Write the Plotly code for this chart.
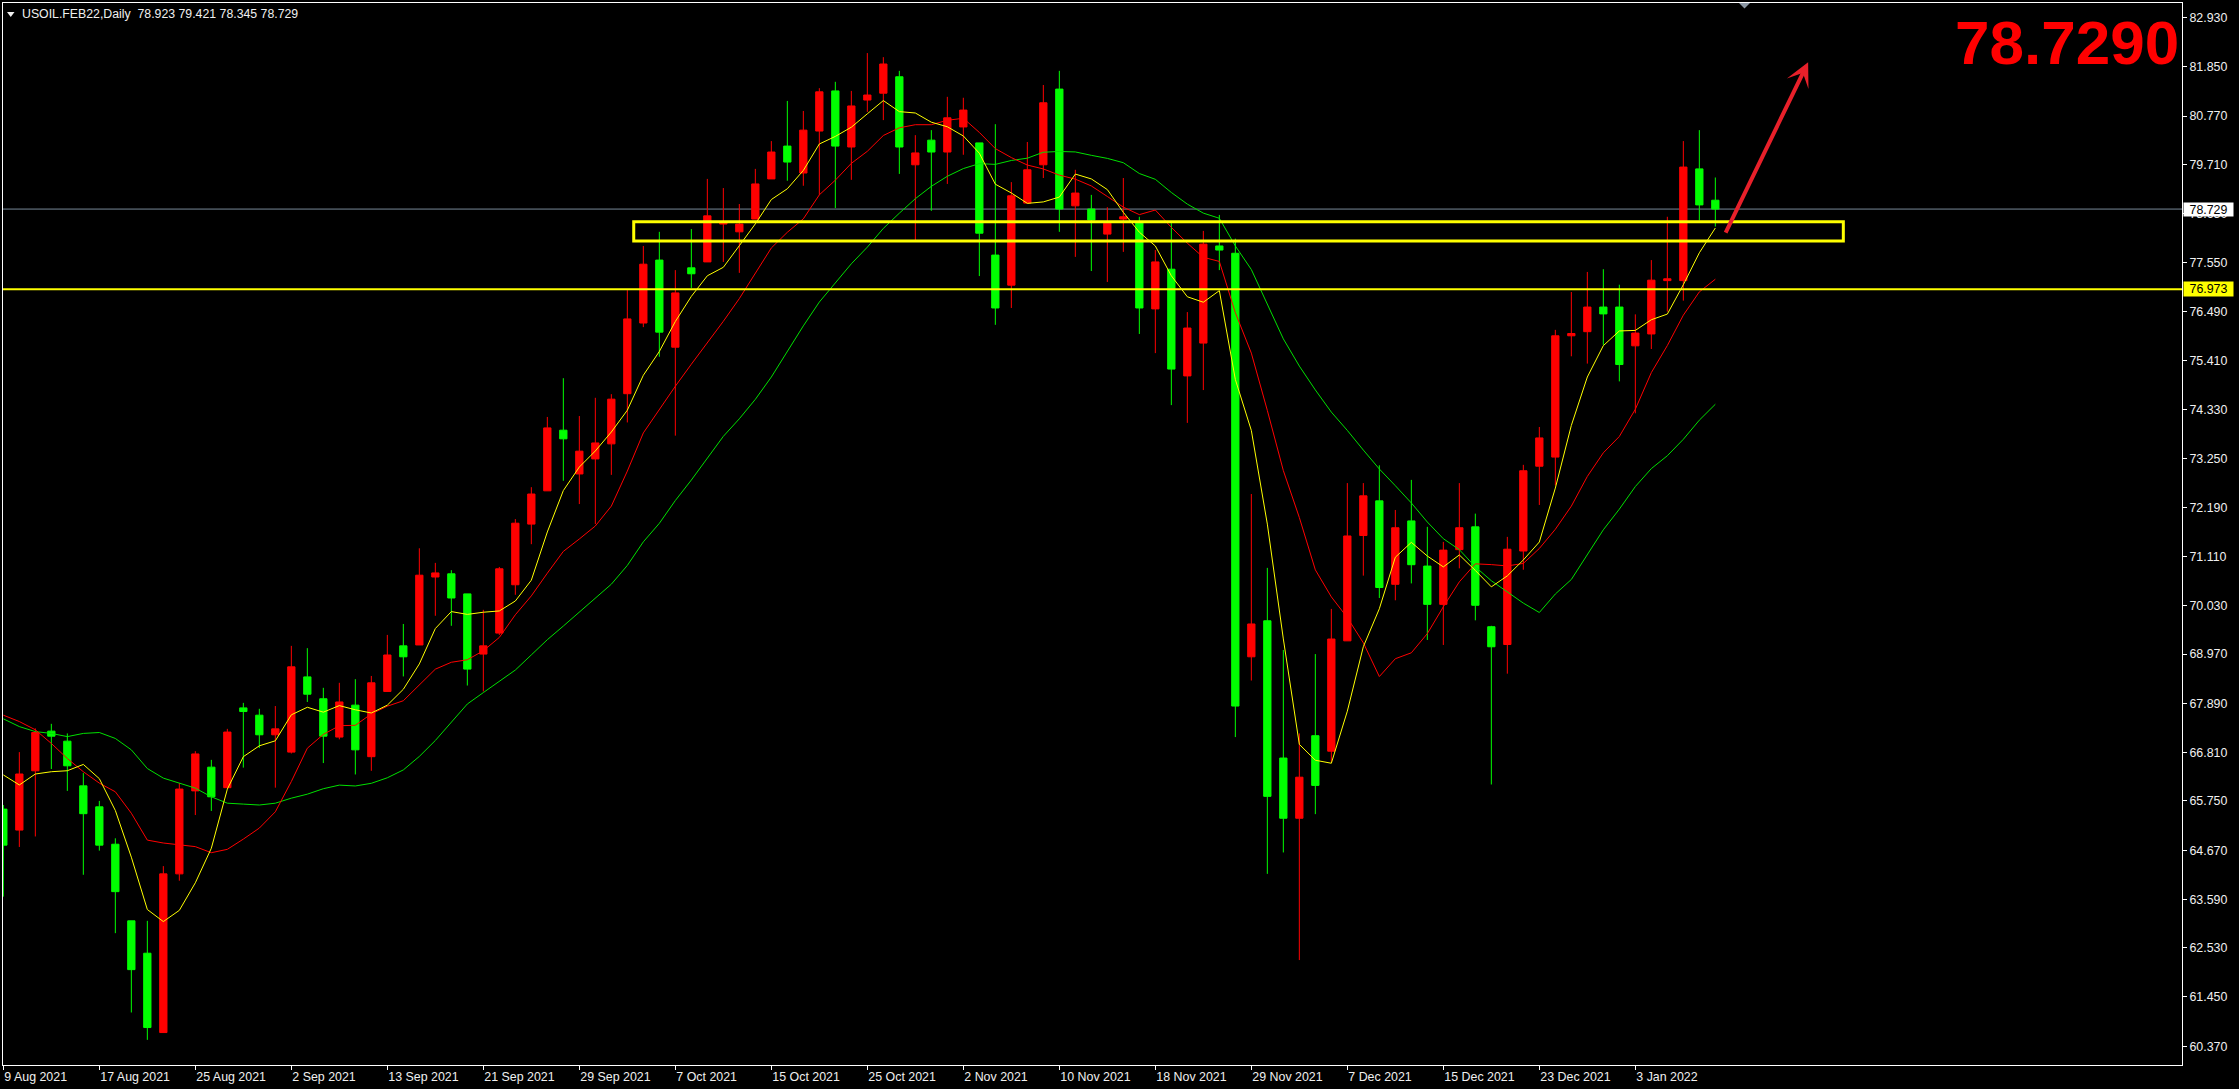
import plotly.graph_objects as go

# ---------------- data ----------------
opens = [65.57, 65.11, 66.41, 67.28, 67.06, 66.08, 65.62, 64.80, 63.12, 62.41,
         60.67, 64.15, 65.97, 66.49, 66.04, 67.79, 67.63, 67.20, 66.82, 68.47,
         67.99, 67.15, 67.85, 66.72, 68.15, 69.15, 69.17, 70.66, 70.73, 70.29,
         68.97, 69.43, 70.49, 71.82, 72.55, 73.88, 72.92, 73.25, 73.58, 74.68,
         76.23, 77.61, 75.70, 77.44, 77.57, 78.40, 78.23, 78.51, 79.39, 80.11,
         79.52, 80.44, 81.32, 80.09, 81.12, 81.27, 81.63, 79.70, 80.24, 79.98,
         80.53, 80.18, 77.72, 77.06, 78.86, 79.70, 81.36, 78.80, 78.73, 78.18,
         78.51, 78.45, 76.54, 77.41, 75.07, 75.79, 77.92, 77.76, 68.91, 69.70,
         66.69, 65.37, 67.18, 66.84, 69.26, 71.57, 72.33, 70.50, 71.89, 70.90,
         70.06, 71.26, 71.76, 69.57, 69.18, 71.23, 73.09, 73.29, 75.95, 76.04,
         76.58, 76.58, 75.73, 75.99, 77.16, 77.16, 79.61, 78.923]
highs = [65.66, 66.82, 67.34, 67.44, 67.23, 66.36, 65.75, 64.93, 63.12, 63.12,
         64.32, 66.14, 66.84, 66.65, 67.33, 67.90, 67.77, 67.83, 69.15, 69.10,
         68.23, 68.34, 68.42, 68.49, 69.39, 69.63, 71.29, 70.97, 70.81, 70.29,
         69.94, 70.88, 71.93, 72.63, 74.17, 75.02, 74.19, 74.59, 74.67, 76.95,
         77.92, 78.23, 77.39, 78.29, 79.39, 79.19, 78.84, 79.61, 80.22, 81.10,
         80.88, 81.38, 81.52, 81.32, 82.15, 82.06, 81.76, 80.35, 80.46, 81.19,
         81.17, 80.18, 80.59, 79.32, 80.20, 81.45, 81.76, 79.59, 79.04, 78.77,
         79.41, 78.56, 77.83, 78.42, 76.47, 78.25, 78.60, 78.08, 72.48, 70.86,
         69.06, 67.23, 68.97, 69.96, 72.72, 72.72, 73.11, 72.13, 72.79, 71.76,
         71.43, 72.72, 72.05, 69.59, 71.54, 73.12, 73.95, 76.08, 76.91, 77.35,
         77.41, 77.07, 76.42, 77.61, 78.56, 80.22, 80.46, 79.421]
lows = [63.65, 64.74, 64.97, 66.45, 65.97, 64.13, 64.66, 62.85, 61.11, 60.51,
        60.67, 64.00, 65.44, 65.53, 66.04, 66.48, 66.91, 66.04, 66.79, 67.92,
        66.58, 67.10, 66.33, 66.41, 68.15, 68.48, 69.17, 69.81, 69.59, 68.28,
        68.15, 69.39, 70.27, 71.38, 72.55, 72.77, 72.26, 71.82, 72.90, 74.05,
        76.14, 75.49, 73.76, 77.00, 77.57, 77.57, 77.33, 78.51, 79.39, 79.35,
        79.24, 79.04, 78.75, 79.37, 80.86, 80.68, 79.50, 78.05, 78.69, 79.28,
        79.92, 77.26, 76.19, 76.56, 78.86, 79.41, 78.23, 77.68, 77.37, 77.13,
        77.79, 75.99, 75.57, 74.43, 74.04, 74.76, 77.39, 67.15, 68.39, 64.15,
        64.62, 62.26, 65.46, 66.60, 69.26, 70.69, 70.20, 70.15, 70.52, 69.28,
        69.17, 70.85, 69.71, 66.11, 68.54, 70.82, 72.24, 72.67, 75.50, 75.34,
        75.75, 74.95, 74.25, 75.66, 76.48, 76.72, 78.48, 78.345]
closes = [64.78, 66.34, 67.25, 67.17, 66.52, 65.47, 64.78, 63.76, 62.05, 60.78,
          64.15, 66.01, 66.78, 65.84, 67.26, 67.71, 67.20, 67.33, 68.69, 68.09,
          67.17, 67.92, 66.87, 68.34, 68.95, 68.91, 70.70, 70.75, 70.20, 68.64,
          69.15, 70.84, 71.84, 72.48, 73.93, 73.69, 73.42, 73.60, 74.56, 76.32,
          77.52, 76.03, 76.89, 77.31, 78.58, 78.45, 78.40, 79.28, 79.98, 79.76,
          80.46, 81.30, 80.11, 80.99, 81.23, 81.91, 80.09, 79.96, 79.98, 80.73,
          80.90, 78.20, 76.56, 79.02, 79.59, 81.06, 78.73, 79.08, 78.49, 78.42,
          78.56, 76.56, 77.57, 75.22, 76.12, 77.96, 77.83, 67.83, 69.63, 65.85,
          65.37, 66.27, 66.09, 69.30, 71.56, 72.44, 70.43, 71.74, 70.93, 70.06,
          71.25, 71.74, 70.04, 69.13, 71.27, 72.99, 73.71, 75.95, 76.00, 76.58,
          76.43, 75.32, 76.01, 77.17, 77.20, 79.65, 78.82, 78.729]

# moving-average values visible at the left edge (before enough history exists)
ma5_head = [66.32, 66.10, 66.34, 66.39]
ma10_head = [67.63, 67.49, 67.31, 67.01, 66.68, 66.39, 66.14, 65.95, 65.48]
ma20_head = [67.55, 67.38, 67.27, 67.23, 67.16, 67.23, 67.25, 67.12, 66.87, 66.46,
             66.25, 66.14, 66.03, 65.84, 65.70, 65.68, 65.66, 65.70, 65.81]

date_ticks = [0, 6, 12, 18, 24, 30, 36, 42, 48, 54, 60, 66, 72, 78, 84, 90, 96, 102]
date_labels = ["9 Aug 2021", "17 Aug 2021", "25 Aug 2021", "2 Sep 2021", "13 Sep 2021",
               "21 Sep 2021", "29 Sep 2021", "7 Oct 2021", "15 Oct 2021", "25 Oct 2021",
               "2 Nov 2021", "10 Nov 2021", "18 Nov 2021", "29 Nov 2021", "7 Dec 2021",
               "15 Dec 2021", "23 Dec 2021", "3 Jan 2022"]
price_ticks = [82.93, 81.85, 80.77, 79.71, 78.63, 77.55, 76.49, 75.41, 74.33, 73.25, 72.19,
               71.11, 70.03, 68.97, 67.89, 66.81, 65.75, 64.67, 63.59, 62.53, 61.45, 60.37]

support_level = 76.973
zone_low, zone_high = 78.03, 78.45
zone_start, zone_end = 39.4, 115.0
arrow_tail = (107.6, 78.18)
arrow_head = (112.8, 81.95)

symbol = "USOIL.FEB22,Daily"

# ---------------- derived ----------------
bars = list(range(len(closes)))


def sma(vals, n, head):
    out = list(head)
    for i in range(len(head), len(vals)):
        out.append(sum(vals[i - n + 1:i + 1]) / n)
    return out


ma5 = sma(closes, 5, ma5_head)
ma10 = sma(closes, 10, ma10_head)
ma20 = sma(closes, 20, ma20_head)

# ---------------- geometry ----------------
W, H = 2239, 1089
ML, MR, MT, MB = 3, 57, 3, 24
PW, PH = W - ML - MR, H - MT - MB


def px_x(p):
    return (p - ML) / PW


def px_y(p):
    return (H - MB - p) / PH


FONT = "Liberation Sans, Arial, sans-serif"
TXT = "#F0F0F0"
RED = "#FF0000"
GREEN = "#00FF00"

fig = go.Figure()

fig.add_trace(go.Candlestick(
    x=bars, open=opens, high=highs, low=lows, close=closes,
    increasing=dict(line=dict(color=RED, width=1), fillcolor=RED),
    decreasing=dict(line=dict(color=GREEN, width=1), fillcolor=GREEN),
    whiskerwidth=0, showlegend=False, hoverinfo="skip",
))
fig.add_trace(go.Scatter(x=bars, y=ma20, mode="lines", line=dict(color="#00E000", width=1),
                         showlegend=False, hoverinfo="skip"))
fig.add_trace(go.Scatter(x=bars, y=ma10, mode="lines", line=dict(color="#FF0000", width=1),
                         showlegend=False, hoverinfo="skip"))
fig.add_trace(go.Scatter(x=bars, y=ma5, mode="lines", line=dict(color="#FFFF00", width=1),
                         showlegend=False, hoverinfo="skip"))

last = closes[-1]

shapes = [
    # bid line
    dict(type="line", xref="paper", x0=0, x1=1, yref="y", y0=last, y1=last,
         line=dict(color="#778899", width=1), layer="below"),
    # support line
    dict(type="line", xref="paper", x0=0, x1=1, yref="y", y0=support_level, y1=support_level,
         line=dict(color="#FFFF00", width=2), layer="above"),
    # resistance zone
    dict(type="rect", xref="x", x0=zone_start, x1=zone_end, yref="y", y0=zone_low, y1=zone_high,
         line=dict(color="#FFFF00", width=3), fillcolor="rgba(0,0,0,0)", layer="above"),
    # header triangle
    dict(type="path", xref="paper", yref="paper",
         path=f"M {px_x(7)} {px_y(12)} L {px_x(14.5)} {px_y(12)} L {px_x(10.75)} {px_y(17)} Z",
         fillcolor=TXT, line=dict(width=0)),
    # chart shift marker
    dict(type="path", xref="paper", yref="paper",
         path=f"M {px_x(1739)} {px_y(3)} L {px_x(1750)} {px_y(3)} L {px_x(1744.5)} {px_y(8.5)} Z",
         fillcolor="#8A96A3", line=dict(width=0)),
]

annotations = [
    dict(text=f"{symbol}\u00a0 {opens[-1]:.3f} {highs[-1]:.3f} {lows[-1]:.3f} {closes[-1]:.3f}",
         xref="paper", yref="paper", x=px_x(20), y=px_y(14.5), xanchor="left", yanchor="middle",
         showarrow=False, font=dict(family=FONT, size=12.3, color=TXT)),
    dict(text=f"{last:.4f}", xref="paper", yref="paper", x=px_x(2181), y=px_y(43),
         xanchor="right", yanchor="middle", showarrow=False,
         font=dict(family="Liberation Sans, Arial, sans-serif", size=62, color="#FF0000", weight="bold")),
    dict(text="", x=arrow_head[0], y=arrow_head[1], ax=arrow_tail[0], ay=arrow_tail[1],
         xref="x", yref="y", axref="x", ayref="y", showarrow=True,
         arrowhead=3, arrowwidth=4, arrowsize=1, arrowcolor="#E8202A", standoff=0),
    dict(text=f"{last:.3f}", xref="paper", x=1, xanchor="left", xshift=1, yref="y", y=last,
         yanchor="middle", showarrow=False, bgcolor="#FFFFFF", width=49, height=13, borderpad=0,
         font=dict(family=FONT, size=12.4, color="#000000")),
    dict(text=f"{support_level:.3f}", xref="paper", x=1, xanchor="left", xshift=1, yref="y",
         y=support_level, yanchor="middle", showarrow=False, bgcolor="#FFFF00", width=49, height=14,
         borderpad=0, font=dict(family=FONT, size=12.4, color="#000000")),
]

x_lo = (ML - 3.33) / 16
x_hi = (W - MR - 3.33) / 16
y_hi = 82.93 + (17.5 - MT) / 45.6
y_lo = 82.93 - (H - MB - 17.5) / 45.6

fig.update_layout(
    width=W, height=H,
    margin=dict(l=ML, r=MR, t=MT, b=MB, pad=0),
    paper_bgcolor="#000000", plot_bgcolor="#000000",
    showlegend=False, boxgap=0.35,
    shapes=shapes, annotations=annotations,
    xaxis=dict(range=[x_lo, x_hi], rangeslider=dict(visible=False), showgrid=False, zeroline=False,
               showline=True, linecolor="#FFFFFF", linewidth=1, mirror=True,
               ticks="outside", ticklen=4, tickwidth=1, tickcolor="#FFFFFF",
               tickvals=date_ticks, ticktext=date_labels, ticklabelposition="outside right",
               tickfont=dict(family=FONT, size=12.4, color=TXT)),
    yaxis=dict(range=[y_lo, y_hi], side="right", showgrid=False, zeroline=False,
               showline=True, linecolor="#FFFFFF", linewidth=1, mirror=True,
               ticks="outside", ticklen=4, tickwidth=1, tickcolor="#FFFFFF",
               tickvals=price_ticks, ticktext=[f"{v:.3f}" for v in price_ticks],
               tickfont=dict(family=FONT, size=12.4, color=TXT)),
)

fig.write_html(
    "out.html",
    config={"displayModeBar": False},
    post_script="document.body.style.margin='0';document.body.style.background='#000';",
)
